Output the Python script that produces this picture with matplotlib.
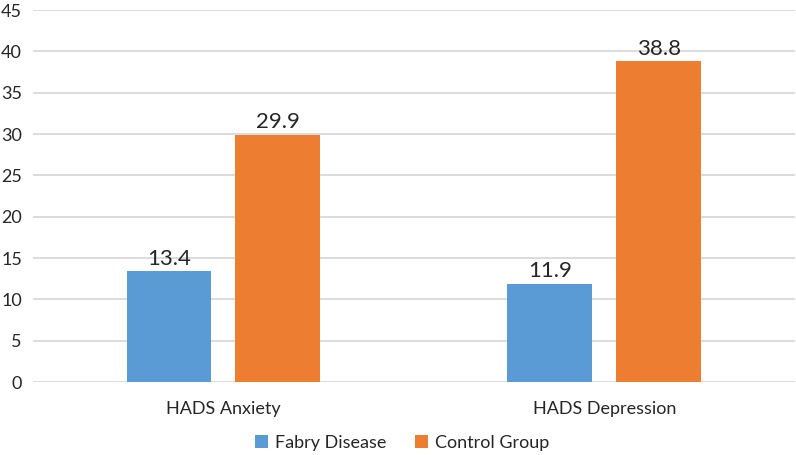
import numpy as np
import matplotlib
matplotlib.use('Agg')
from matplotlib import pyplot as plt

categories = ['HADS Anxiety', 'HADS Depression']
series_names = ['Fabry Disease', 'Control Group']
fabry = [13.4, 11.9]
control = [29.9, 38.8]
colors = ['#5B9BD5', '#ED7D31']

plt.rcParams['font.family'] = ['Lato', 'DejaVu Sans']

fig = plt.figure(figsize=(7.96, 4.55), dpi=100)
ax = fig.add_axes([0.0415, 0.1604, 0.957, 0.8176])

x = np.arange(len(categories))
w = 0.223
off = 0.143
b1 = ax.bar(x - off, fabry, w, color=colors[0], label=series_names[0], zorder=3)
b2 = ax.bar(x + off, control, w, color=colors[1], label=series_names[1], zorder=3)

for bars in (b1, b2):
    for r in bars:
        ax.text(r.get_x() + r.get_width() / 2, r.get_height() + 0.3, '%.1f' % r.get_height(),
                ha='center', va='bottom', fontsize=16, color='#262626')

ax.set_xlim(-0.5, 1.5)
ax.set_ylim(0, 45)
ax.set_yticks(range(0, 46, 5))
ax.set_xticks(x)
ax.set_xticklabels(categories, fontsize=13, color='#262626')
ax.tick_params(axis='y', labelsize=13, colors='#262626', length=0, pad=8)
ax.tick_params(axis='x', length=0, pad=14)
ax.grid(axis='y', color='#d9d9d9', linewidth=1.3, zorder=0)
for s in ax.spines.values():
    s.set_visible(False)

fig.legend(handles=[b1, b2], loc='center', bbox_to_anchor=(0.505, 0.027), ncol=2,
           frameon=False, fontsize=13, handlelength=0.7, handleheight=0.7,
           handletextpad=0.4, columnspacing=1.6, labelcolor='#262626')

fig.savefig('out.png', dpi=100)
